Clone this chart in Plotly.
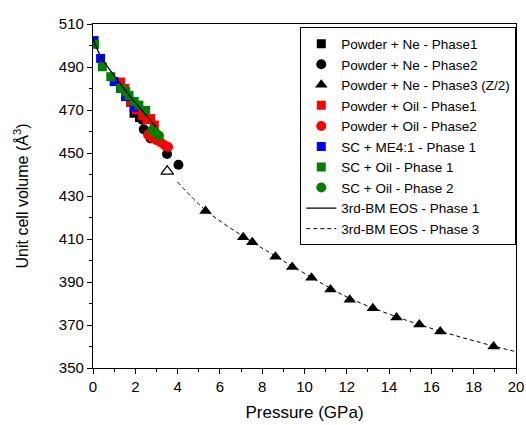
import plotly.graph_objects as go

# ---- data ----
ne_p1_P = [0.0, 1.78, 1.94, 2.2]
ne_p1_V = [501.5, 474.0, 468.5, 466.5]

ne_p2_P = [2.33, 2.40, 2.72, 3.50, 4.04]
ne_p2_V = [465.5, 461.0, 456.8, 449.5, 444.5]

ne_p3_P = [5.32, 7.10, 7.53, 8.63, 9.42, 10.33, 11.23, 12.14, 13.23, 14.35, 15.43, 16.42, 18.94]
ne_p3_V = [423.0, 410.8, 408.5, 401.8, 397.0, 392.0, 386.5, 381.8, 377.8, 373.5, 370.2, 367.0, 360.0]

open_tri_P = [3.51]
open_tri_V = [441.5]

oil_p1_P = [1.31, 1.50, 1.78, 2.05, 2.35, 2.55, 2.73, 2.90]
oil_p1_V = [483.0, 480.0, 473.5, 470.0, 467.5, 465.5, 466.0, 463.0]

oil_p2_P = [2.60, 2.80, 3.00, 3.20, 3.40, 3.55]
oil_p2_V = [458.5, 457.0, 456.0, 455.0, 453.5, 452.8]

me_p1_P = [0.05, 0.36, 1.00, 1.30, 1.54, 1.94]
me_p1_V = [502.3, 494.0, 483.2, 480.0, 476.2, 471.3]

sc_oil_p1_P = [0.08, 0.44, 0.84, 1.31, 1.55, 1.70, 1.95, 2.17, 2.49]
sc_oil_p1_V = [500.5, 490.1, 485.5, 480.1, 478.5, 476.8, 474.0, 472.3, 469.8]

sc_oil_p2_P = [2.80, 2.95, 3.12]
sc_oil_p2_V = [460.7, 459.5, 458.0]

eos1_P = [0.0, 0.36, 1.0, 1.78, 2.4, 2.96]
eos1_V = [503.0, 495.0, 486.0, 476.0, 468.8, 462.2]

eos3_P = [4.0, 5.3, 7.1, 8.6, 10.3, 12.1, 14.3, 16.4, 18.9, 20.0]
eos3_V = [436.5, 423.6, 411.2, 402.2, 392.3, 382.6, 374.0, 367.2, 360.3, 357.6]

legend_names = [
    "Powder + Ne - Phase1", "Powder + Ne - Phase2", "Powder + Ne - Phase3 (Z/2)",
    "Powder + Oil - Phase1", "Powder + Oil - Phase2", "SC + ME4:1 - Phase 1",
    "SC + Oil - Phase 1", "SC + Oil - Phase 2", "3rd-BM EOS - Phase 1", "3rd-BM EOS - Phase 3",
]

BLACK, RED, BLUE, GREEN = "#000000", "#ff0000", "#0000ff", "#008000"

fig = go.Figure()

def sc(P, V, name, color, symbol, size):
    fig.add_trace(go.Scatter(x=P, y=V, mode="markers", name=name,
                             marker=dict(color=color, symbol=symbol, size=size, line=dict(width=0))))

sc(ne_p1_P, ne_p1_V, legend_names[0], BLACK, "square", 9)
sc(ne_p2_P, ne_p2_V, legend_names[1], BLACK, "circle", 10)
sc(ne_p3_P, ne_p3_V, legend_names[2], BLACK, "triangle-up", 11)
sc(oil_p1_P, oil_p1_V, legend_names[3], RED, "square", 9)
sc(oil_p2_P, oil_p2_V, legend_names[4], RED, "circle", 10)
sc(me_p1_P, me_p1_V, legend_names[5], BLUE, "square", 9)
sc(sc_oil_p1_P, sc_oil_p1_V, legend_names[6], GREEN, "square", 9)
sc(sc_oil_p2_P, sc_oil_p2_V, legend_names[7], GREEN, "circle", 10)

fig.add_trace(go.Scatter(x=open_tri_P, y=open_tri_V, mode="markers", showlegend=False,
                         marker=dict(color=BLACK, symbol="triangle-up-open", size=11, line=dict(width=1.3))))

fig.add_trace(go.Scatter(x=eos1_P, y=eos1_V, mode="lines", name=legend_names[8],
                         line=dict(color=BLACK, width=1.3, shape="spline")))
fig.add_trace(go.Scatter(x=eos3_P, y=eos3_V, mode="lines", name=legend_names[9],
                         line=dict(color=BLACK, width=1, dash="4px,3px", shape="spline")))

axis_common = dict(showline=True, linecolor="black", linewidth=1.2, mirror=True,
                   ticks="outside", ticklen=5, tickcolor="black", showgrid=False, zeroline=False,
                   automargin=False,
                   tickfont=dict(family="Liberation Sans, Arial", size=15, color="black"))

fig.update_layout(
    width=526, height=425,
    margin=dict(l=93, r=10, t=24, b=57, autoexpand=False),
    paper_bgcolor="white", plot_bgcolor="white",
    font=dict(family="Liberation Sans, Arial", color="black"),
    xaxis=dict(range=[0, 20], dtick=2,
               minor=dict(dtick=1, ticks="outside", ticklen=3, tickcolor="black"),
               title=dict(text="Pressure (GPa)", font=dict(size=17), standoff=12),
               **axis_common),
    yaxis=dict(range=[350, 510], dtick=20, tick0=350,
               minor=dict(dtick=10, ticks="outside", ticklen=3, tickcolor="black"),
               title=dict(text="Unit cell volume (Å<sup>3</sup>)", font=dict(size=16), standoff=26),
               **axis_common),
    legend=dict(x=0.49, y=0.99, xanchor="left", yanchor="top",
                bordercolor="black", borderwidth=1, bgcolor="white",
                font=dict(size=13.5, family="Liberation Sans, Arial", color="black"),
                tracegroupgap=0, itemwidth=30),
)

fig.write_html("out.html", config={"displayModeBar": False},
               post_script="document.body.style.margin='0';document.body.style.overflow='hidden';")
